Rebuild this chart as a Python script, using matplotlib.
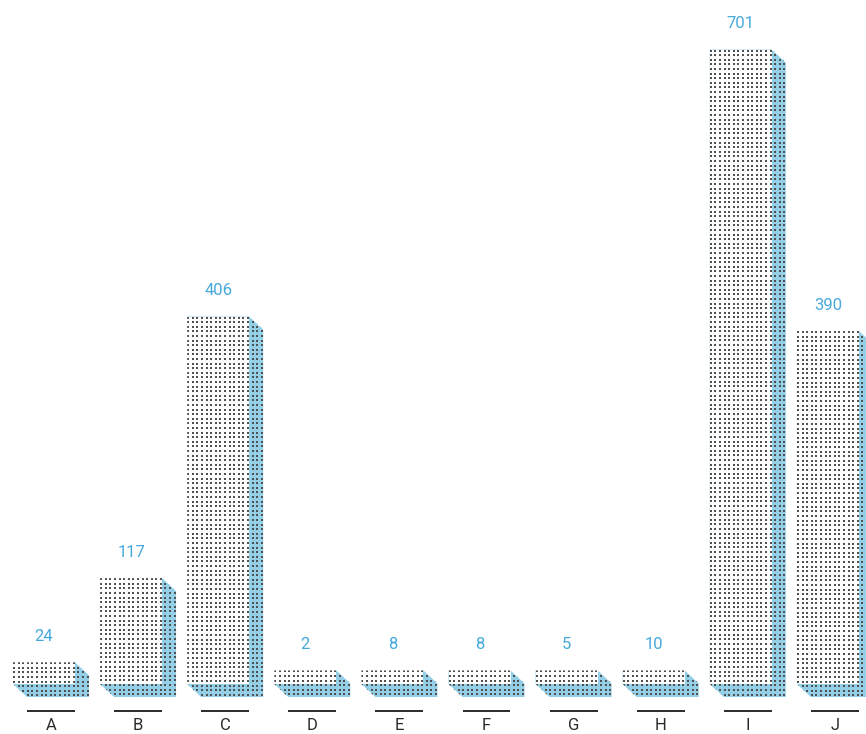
import numpy as np
import matplotlib
matplotlib.use("Agg")
import matplotlib.pyplot as plt
from matplotlib.patches import Polygon, Rectangle

# ---- data ----
categories = ["A", "B", "C", "D", "E", "F", "G", "H", "I", "J"]
values = [24, 117, 406, 2, 8, 8, 5, 10, 701, 390]

# ---- styling ----
W, H = 866, 734
DPI = 100
BLUE = "#93d0e8"
LABEL_BLUE = "#46a9db"
DOT = "#505050"
PX_PER_CAT = 87.1          # pixels per category step
PX_PER_VAL = 0.905         # pixels per value unit
BASE_PX = 684              # baseline, pixels from top
FIRST_CENTER_PX = 44       # centre of first bar face
BAR_W = 62 / PX_PER_CAT
DX = 14 / PX_PER_CAT       # extrusion depth (x)
DY = 13 / PX_PER_VAL       # extrusion depth (y)
MIN_H = 15                 # minimum visual height (value units)
DOT_SX = 4.6 / PX_PER_CAT
DOT_SY = 4.6 / PX_PER_VAL

fig = plt.figure(figsize=(W / DPI, H / DPI), dpi=DPI)
ax = fig.add_axes([0, 0, 1, 1])
ax.set_xlim(-FIRST_CENTER_PX / PX_PER_CAT, (W - FIRST_CENTER_PX) / PX_PER_CAT)
ax.set_ylim(-(H - BASE_PX) / PX_PER_VAL, BASE_PX / PX_PER_VAL)
ax.axis("off")

for i, (cat, v) in enumerate(zip(categories, values)):
    h = max(v, MIN_H)
    x0 = i - BAR_W / 2
    x1 = i + BAR_W / 2
    hexagon = [(x0, h), (x1, h), (x1 + DX, h - DY), (x1 + DX, -DY),
               (x0 + DX, -DY), (x0, 0)]
    ax.add_patch(Polygon(hexagon, closed=True, facecolor=BLUE,
                         edgecolor="none", zorder=1))
    ax.add_patch(Rectangle((x0, 0), BAR_W, h, facecolor="white",
                           edgecolor="none", zorder=2))
    # dot texture
    xs = np.arange(x0 + 1.0 / PX_PER_CAT, x1 + DX, DOT_SX)
    ys = np.arange(h - 1.0 / PX_PER_VAL, -DY, -DOT_SY)
    gx, gy = np.meshgrid(xs, ys)
    clip = Polygon(hexagon, closed=True, transform=ax.transData)
    sc = ax.scatter(gx.ravel(), gy.ravel(), s=0.6, marker="s", c=DOT,
                    linewidths=0, zorder=3)
    sc.set_clip_path(clip)
    # value label
    ax.text(i, h + 26 / PX_PER_VAL, str(v), ha="center", va="center",
            color=LABEL_BLUE, fontsize=12, family="Roboto")
    # underline and category label
    cx = i + (DX / 2)
    ax.plot([cx - 24 / PX_PER_CAT, cx + 24 / PX_PER_CAT],
            [-(710.5 - BASE_PX) / PX_PER_VAL] * 2, color="#1a1a1a",
            linewidth=1.3, solid_capstyle="butt", zorder=3)
    ax.text(cx, -(726 - BASE_PX) / PX_PER_VAL, cat, ha="center", va="center",
            color="#2a2a2a", fontsize=12, family="Roboto")

fig.savefig("out.png", dpi=DPI)
